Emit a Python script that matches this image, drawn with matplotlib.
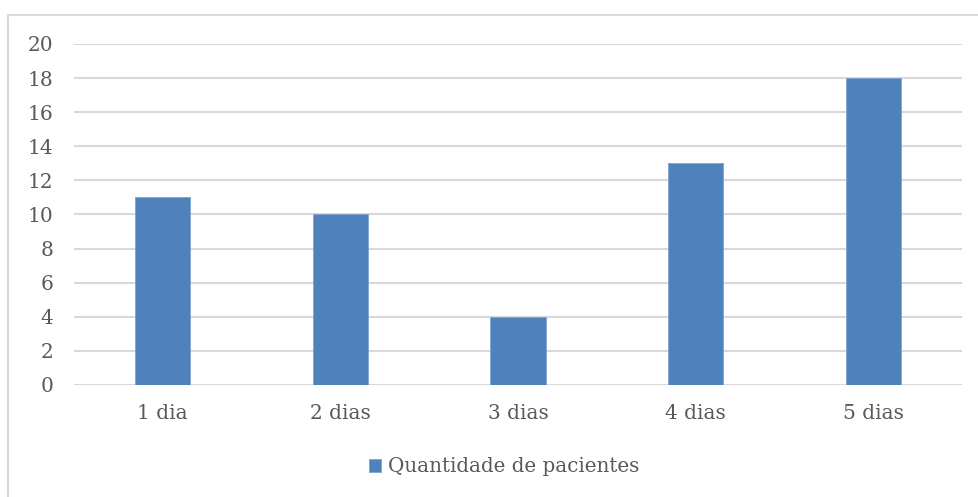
import matplotlib.pyplot as plt
from matplotlib.patches import Rectangle

categorias = ["1 dia", "2 dias", "3 dias", "4 dias", "5 dias"]
pacientes = [11, 10, 4, 13, 18]
yticks = list(range(0, 21, 2))

W, H = 979, 497
fig = plt.figure(figsize=(W / 100, H / 100), dpi=100)
plt.rcParams['font.family'] = ['DejaVu Serif']

# chart frame (runs off the right and bottom edges)
fig.patches.append(Rectangle((8.5 / W, -0.02), 1.1, 1 - 14.5 / H + 0.02,
                             transform=fig.transFigure, fill=False,
                             edgecolor="#d9d9d9", linewidth=1.5))

# plot area: x 74..962 px, y 44..385 px
ax = fig.add_axes([74 / W, 1 - 385 / H, (962 - 74) / W, (385 - 44) / H])
x = range(len(categorias))
ax.bar(x, pacientes, width=0.31, color="#4f81bd", edgecolor="#7fa3d3",
       linewidth=0.6, zorder=3, label="Quantidade de pacientes")

ax.set_xlim(-0.5, len(categorias) - 0.5)
ax.set_ylim(0, 20)
ax.set_yticks(yticks)
ax.set_xticks(list(x))
ax.set_xticklabels(categorias)
ax.grid(axis="y", color="#d9d9d9", linewidth=1.5, zorder=0)
for s in ax.spines.values():
    s.set_visible(False)
ax.tick_params(length=0, labelsize=14.5, labelcolor="#595959")
ax.tick_params(axis="y", pad=15)
ax.tick_params(axis="x", pad=14)

fig.legend(loc="center", bbox_to_anchor=(504 / W, 1 - 467 / H), frameon=False,
           fontsize=14.3, labelcolor="#595959", handlelength=0.6,
           handleheight=0.6, handletextpad=0.35)

fig.savefig("out.png", dpi=100)
